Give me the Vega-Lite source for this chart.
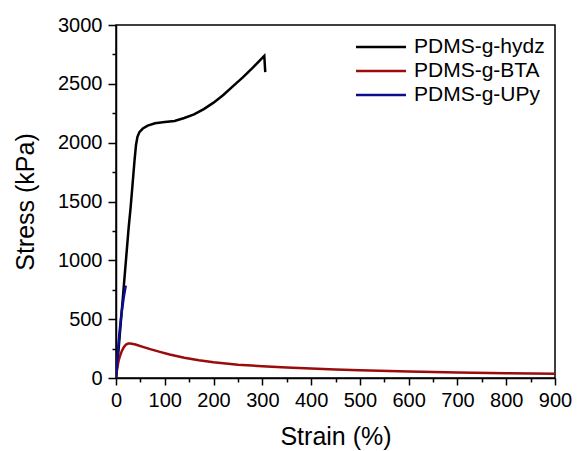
{
  "$schema": "https://vega.github.io/schema/vega-lite/v6.json",
  "width": 439,
  "height": 353,
  "autosize": {"type": "none"},
  "padding": {"left": 116, "top": 25, "right": 22, "bottom": 73},
  "background": "white",
  "config": {
    "font": "Liberation Sans",
    "view": {"stroke": "black", "strokeWidth": 1.5},
    "axis": {
      "domainColor": "black", "domainWidth": 1.5, "tickColor": "black", "tickWidth": 1.5,
      "labelColor": "black", "titleColor": "black", "labelFont": "Liberation Sans",
      "titleFont": "Liberation Sans", "labelFontSize": 20, "titleFontSize": 25,
      "titleFontWeight": "normal", "grid": false
    }
  },
  "data": {
    "values": [
      {"strain": 0, "stress": 0, "sample": "PDMS-g-hydz"},
      {"strain": 3, "stress": 130, "sample": "PDMS-g-hydz"},
      {"strain": 6, "stress": 280, "sample": "PDMS-g-hydz"},
      {"strain": 9, "stress": 430, "sample": "PDMS-g-hydz"},
      {"strain": 12, "stress": 580, "sample": "PDMS-g-hydz"},
      {"strain": 15, "stress": 730, "sample": "PDMS-g-hydz"},
      {"strain": 18, "stress": 880, "sample": "PDMS-g-hydz"},
      {"strain": 22, "stress": 1080, "sample": "PDMS-g-hydz"},
      {"strain": 26, "stress": 1280, "sample": "PDMS-g-hydz"},
      {"strain": 30, "stress": 1450, "sample": "PDMS-g-hydz"},
      {"strain": 34, "stress": 1650, "sample": "PDMS-g-hydz"},
      {"strain": 38, "stress": 1850, "sample": "PDMS-g-hydz"},
      {"strain": 41, "stress": 1980, "sample": "PDMS-g-hydz"},
      {"strain": 44, "stress": 2050, "sample": "PDMS-g-hydz"},
      {"strain": 48, "stress": 2090, "sample": "PDMS-g-hydz"},
      {"strain": 55, "stress": 2120, "sample": "PDMS-g-hydz"},
      {"strain": 65, "stress": 2145, "sample": "PDMS-g-hydz"},
      {"strain": 80, "stress": 2165, "sample": "PDMS-g-hydz"},
      {"strain": 100, "stress": 2175, "sample": "PDMS-g-hydz"},
      {"strain": 120, "stress": 2185, "sample": "PDMS-g-hydz"},
      {"strain": 140, "stress": 2210, "sample": "PDMS-g-hydz"},
      {"strain": 160, "stress": 2240, "sample": "PDMS-g-hydz"},
      {"strain": 180, "stress": 2285, "sample": "PDMS-g-hydz"},
      {"strain": 200, "stress": 2340, "sample": "PDMS-g-hydz"},
      {"strain": 220, "stress": 2405, "sample": "PDMS-g-hydz"},
      {"strain": 240, "stress": 2480, "sample": "PDMS-g-hydz"},
      {"strain": 260, "stress": 2555, "sample": "PDMS-g-hydz"},
      {"strain": 280, "stress": 2635, "sample": "PDMS-g-hydz"},
      {"strain": 295, "stress": 2700, "sample": "PDMS-g-hydz"},
      {"strain": 304, "stress": 2738, "sample": "PDMS-g-hydz"},
      {"strain": 306, "stress": 2600, "sample": "PDMS-g-hydz"},
      {"strain": 0, "stress": 0, "sample": "PDMS-g-BTA"},
      {"strain": 2, "stress": 70, "sample": "PDMS-g-BTA"},
      {"strain": 5, "stress": 140, "sample": "PDMS-g-BTA"},
      {"strain": 8, "stress": 185, "sample": "PDMS-g-BTA"},
      {"strain": 12, "stress": 230, "sample": "PDMS-g-BTA"},
      {"strain": 16, "stress": 262, "sample": "PDMS-g-BTA"},
      {"strain": 20, "stress": 283, "sample": "PDMS-g-BTA"},
      {"strain": 25, "stress": 293, "sample": "PDMS-g-BTA"},
      {"strain": 30, "stress": 294, "sample": "PDMS-g-BTA"},
      {"strain": 40, "stress": 285, "sample": "PDMS-g-BTA"},
      {"strain": 55, "stress": 265, "sample": "PDMS-g-BTA"},
      {"strain": 70, "stress": 245, "sample": "PDMS-g-BTA"},
      {"strain": 90, "stress": 222, "sample": "PDMS-g-BTA"},
      {"strain": 110, "stress": 200, "sample": "PDMS-g-BTA"},
      {"strain": 140, "stress": 172, "sample": "PDMS-g-BTA"},
      {"strain": 170, "stress": 150, "sample": "PDMS-g-BTA"},
      {"strain": 200, "stress": 133, "sample": "PDMS-g-BTA"},
      {"strain": 250, "stress": 113, "sample": "PDMS-g-BTA"},
      {"strain": 300, "stress": 100, "sample": "PDMS-g-BTA"},
      {"strain": 350, "stress": 89, "sample": "PDMS-g-BTA"},
      {"strain": 400, "stress": 80, "sample": "PDMS-g-BTA"},
      {"strain": 450, "stress": 72, "sample": "PDMS-g-BTA"},
      {"strain": 500, "stress": 65, "sample": "PDMS-g-BTA"},
      {"strain": 600, "stress": 55, "sample": "PDMS-g-BTA"},
      {"strain": 700, "stress": 47, "sample": "PDMS-g-BTA"},
      {"strain": 800, "stress": 41, "sample": "PDMS-g-BTA"},
      {"strain": 900, "stress": 36, "sample": "PDMS-g-BTA"},
      {"strain": 0, "stress": 0, "sample": "PDMS-g-UPy"},
      {"strain": 2, "stress": 120, "sample": "PDMS-g-UPy"},
      {"strain": 4, "stress": 230, "sample": "PDMS-g-UPy"},
      {"strain": 6, "stress": 330, "sample": "PDMS-g-UPy"},
      {"strain": 8, "stress": 420, "sample": "PDMS-g-UPy"},
      {"strain": 10, "stress": 500, "sample": "PDMS-g-UPy"},
      {"strain": 12, "stress": 570, "sample": "PDMS-g-UPy"},
      {"strain": 14, "stress": 630, "sample": "PDMS-g-UPy"},
      {"strain": 16, "stress": 690, "sample": "PDMS-g-UPy"},
      {"strain": 18, "stress": 740, "sample": "PDMS-g-UPy"},
      {"strain": 20, "stress": 785, "sample": "PDMS-g-UPy"}
    ]
  },
  "mark": {"type": "line", "strokeWidth": 2.5, "clip": true},
  "encoding": {
    "x": {"field": "strain", "type": "quantitative", "title": "Strain (%)",
      "scale": {"domain": [0, 900], "nice": false},
      "axis": {"values": [0,50,100,150,200,250,300,350,400,450,500,550,600,650,700,750,800,850,900],
        "format": "d", "labelExpr": "datum.value % 100 === 0 ? datum.label : ''",
        "tickSize": {"condition": {"test": "datum.value % 100 !== 0", "value": 4}, "value": 7},
        "labelPadding": 5, "titlePadding": 14, "labelOverlap": false, "labelFlush": false}},
    "y": {"field": "stress", "type": "quantitative", "title": "Stress (kPa)",
      "scale": {"domain": [0, 3000], "nice": false},
      "axis": {"values": [0,250,500,750,1000,1250,1500,1750,2000,2250,2500,2750,3000],
        "format": "d", "labelExpr": "datum.value % 500 === 0 ? datum.label : ''",
        "tickSize": {"condition": {"test": "datum.value % 500 !== 0", "value": 4}, "value": 8},
        "labelPadding": 6, "titlePadding": 19, "labelOverlap": false, "labelFlush": false}},
    "color": {"field": "sample", "type": "nominal",
      "scale": {"domain": ["PDMS-g-hydz", "PDMS-g-BTA", "PDMS-g-UPy"], "range": ["#000000", "#9a0c0c", "#0c0c8f"]},
      "legend": {"orient": "none", "legendX": 251, "legendY": 8, "title": null,
        "labelFontSize": 21, "labelFont": "Liberation Sans", "labelColor": "black",
        "symbolType": "M-2,0H2", "symbolSize": 625, "symbolStrokeWidth": 2.5, "rowPadding": 0, "labelOffset": 19}}
  }
}
